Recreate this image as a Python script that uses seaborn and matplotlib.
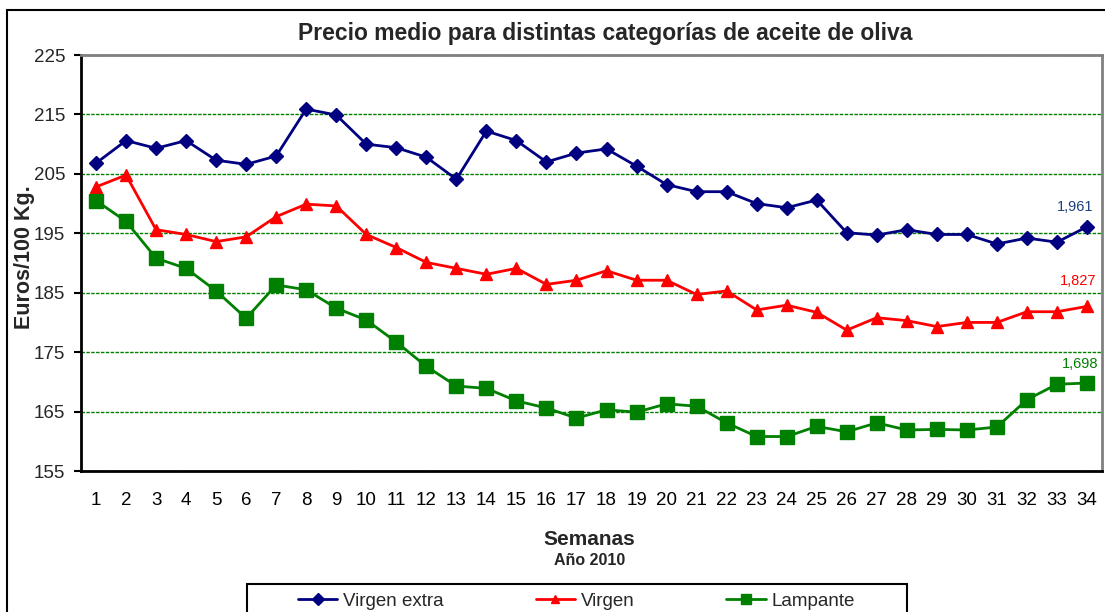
import matplotlib.pyplot as plt
import matplotlib.patches as mpatches
from matplotlib.lines import Line2D
import pandas as pd
import seaborn as sns

W, H = 1105, 612

semanas = list(range(1, 35))
virgen_extra = [206.8, 210.6, 209.3, 210.6, 207.3, 206.6, 208.0, 215.9, 214.9, 210.0,
                209.4, 207.8, 204.1, 212.2, 210.6, 207.0, 208.5, 209.2, 206.3, 203.2,
                202.0, 202.0, 200.0, 199.3, 200.6, 195.1, 194.7, 195.6, 194.8, 194.8,
                193.2, 194.2, 193.5, 196.1]
virgen = [202.8, 204.8, 195.6, 194.8, 193.6, 194.4, 197.8, 199.9, 199.6, 194.8,
          192.6, 190.1, 189.1, 188.1, 189.1, 186.4, 187.1, 188.7, 187.1, 187.1,
          184.7, 185.3, 182.1, 182.9, 181.7, 178.7, 180.8, 180.3, 179.3, 180.0,
          180.0, 181.8, 181.8, 182.7]
lampante = [200.5, 197.0, 190.8, 189.1, 185.3, 180.7, 186.3, 185.5, 182.4, 180.4,
            176.7, 172.6, 169.3, 168.9, 166.8, 165.6, 163.9, 165.3, 164.9, 166.3,
            165.9, 163.1, 160.8, 160.8, 162.5, 161.6, 163.1, 161.9, 162.0, 161.9,
            162.4, 167.0, 169.6, 169.8]

categorias = ["Virgen extra", "Virgen", "Lampante"]
etiquetas_final = ["1,961", "1,827", "1,698"]
y_ticks = [155, 165, 175, 185, 195, 205, 215, 225]

colores = ["#000080", "#FF0000", "#008000"]
colores_etiqueta = ["#1F3F7F", "#FF0000", "#008000"]
marcadores = ["D", "^", "s"]
tam_marcador = [7.5, 8.5, 9.5]

sns.set_theme(style="white")
plt.rcParams["font.family"] = ["Liberation Sans", "DejaVu Sans"]

df = pd.DataFrame({
    "Semana": semanas * 3,
    "Precio": virgen_extra + virgen + lampante,
    "Categoria": [c for c in categorias for _ in semanas],
})

fig = plt.figure(figsize=(W / 100, H / 100), dpi=100)
ax = fig.add_axes([81 / W, 1 - 471 / H, (1102 - 81) / W, (471 - 55) / H])

for name, color, marker, ms in zip(categorias, colores, marcadores, tam_marcador):
    sub = df[df["Categoria"] == name]
    sns.lineplot(data=sub, x="Semana", y="Precio", ax=ax, color=color, marker=marker,
                 markersize=ms, markeredgecolor=color, markeredgewidth=1,
                 linewidth=2, legend=False, zorder=3)

ax.set_xlim(0.5, 34.5)
ax.set_ylim(155, 225)
ax.set_yticks(y_ticks)
ax.set_xticks(semanas)
ax.set_xticks([s - 0.5 for s in semanas] + [34.5], minor=True)
ax.tick_params(axis="x", which="major", length=0, pad=15, labelsize=13.5, colors="black")
ax.tick_params(axis="x", which="minor", length=5, width=1.5, direction="out", color="black")
ax.tick_params(axis="y", length=5, width=1.5, direction="out", pad=6.5, labelsize=13.5,
               color="black", left=True)
ax.set_xlabel("")
ax.set_ylabel("")

ax.grid(axis="y", color="#008000", linestyle=(0, (2.5, 1)), linewidth=1)
ax.grid(axis="x", visible=False)
ax.set_axisbelow(True)

for side in ["left", "bottom"]:
    ax.spines[side].set_color("black")
    ax.spines[side].set_linewidth(2)
for side in ["top", "right"]:
    ax.spines[side].set_color("#808080")
    ax.spines[side].set_linewidth(2)

# etiquetas del último valor
offsets = [(-12, 20), (-9, 25), (-7, 19)]
for vals, txt, col, off in zip([virgen_extra, virgen, lampante], etiquetas_final,
                               colores_etiqueta, offsets):
    ax.annotate(txt, xy=(semanas[-1], vals[-1]), xytext=off, textcoords="offset pixels",
                ha="center", va="center", color=col, fontsize=10.5)

fig.text(605 / W, 1 - 40 / H, "Precio medio para distintas categorías de aceite de oliva",
         ha="center", va="baseline", fontsize=16.5, fontweight="bold")
fig.text(24.5 / W, 1 - 257 / H, "Euros/100 Kg.", rotation=90, ha="center", va="center",
         fontsize=15.5, fontweight="bold")
fig.text(589 / W, 1 - 545 / H, "Semanas", ha="center", va="baseline",
         fontsize=15, fontweight="bold")
fig.text(590 / W, 1 - 565 / H, "Año 2010", ha="center", va="baseline",
         fontsize=11.5, fontweight="bold")

handles = [Line2D([], [], color=c, marker=m, markersize=ms * 0.75, markeredgecolor=c, lw=2)
           for c, m, ms in zip(colores, marcadores, tam_marcador)]
fig.legend(handles, categorias, loc="center left", bbox_to_anchor=(298 / W, 1 - 601 / H),
           ncol=3, frameon=False, fontsize=13.5, handlelength=2.1, handletextpad=0.3,
           columnspacing=4.9, borderpad=0, borderaxespad=0)
fig.add_artist(mpatches.Rectangle((247 / W, 1 - 640 / H), 660 / W, 56 / H,
                                  transform=fig.transFigure, fill=False,
                                  edgecolor="black", linewidth=1.5))
fig.add_artist(mpatches.Rectangle((7 / W, -0.1), 1.2, 1.1 - 10 / H,
                                  transform=fig.transFigure, fill=False,
                                  edgecolor="black", linewidth=1.5))

fig.savefig("out.png", dpi=100)
